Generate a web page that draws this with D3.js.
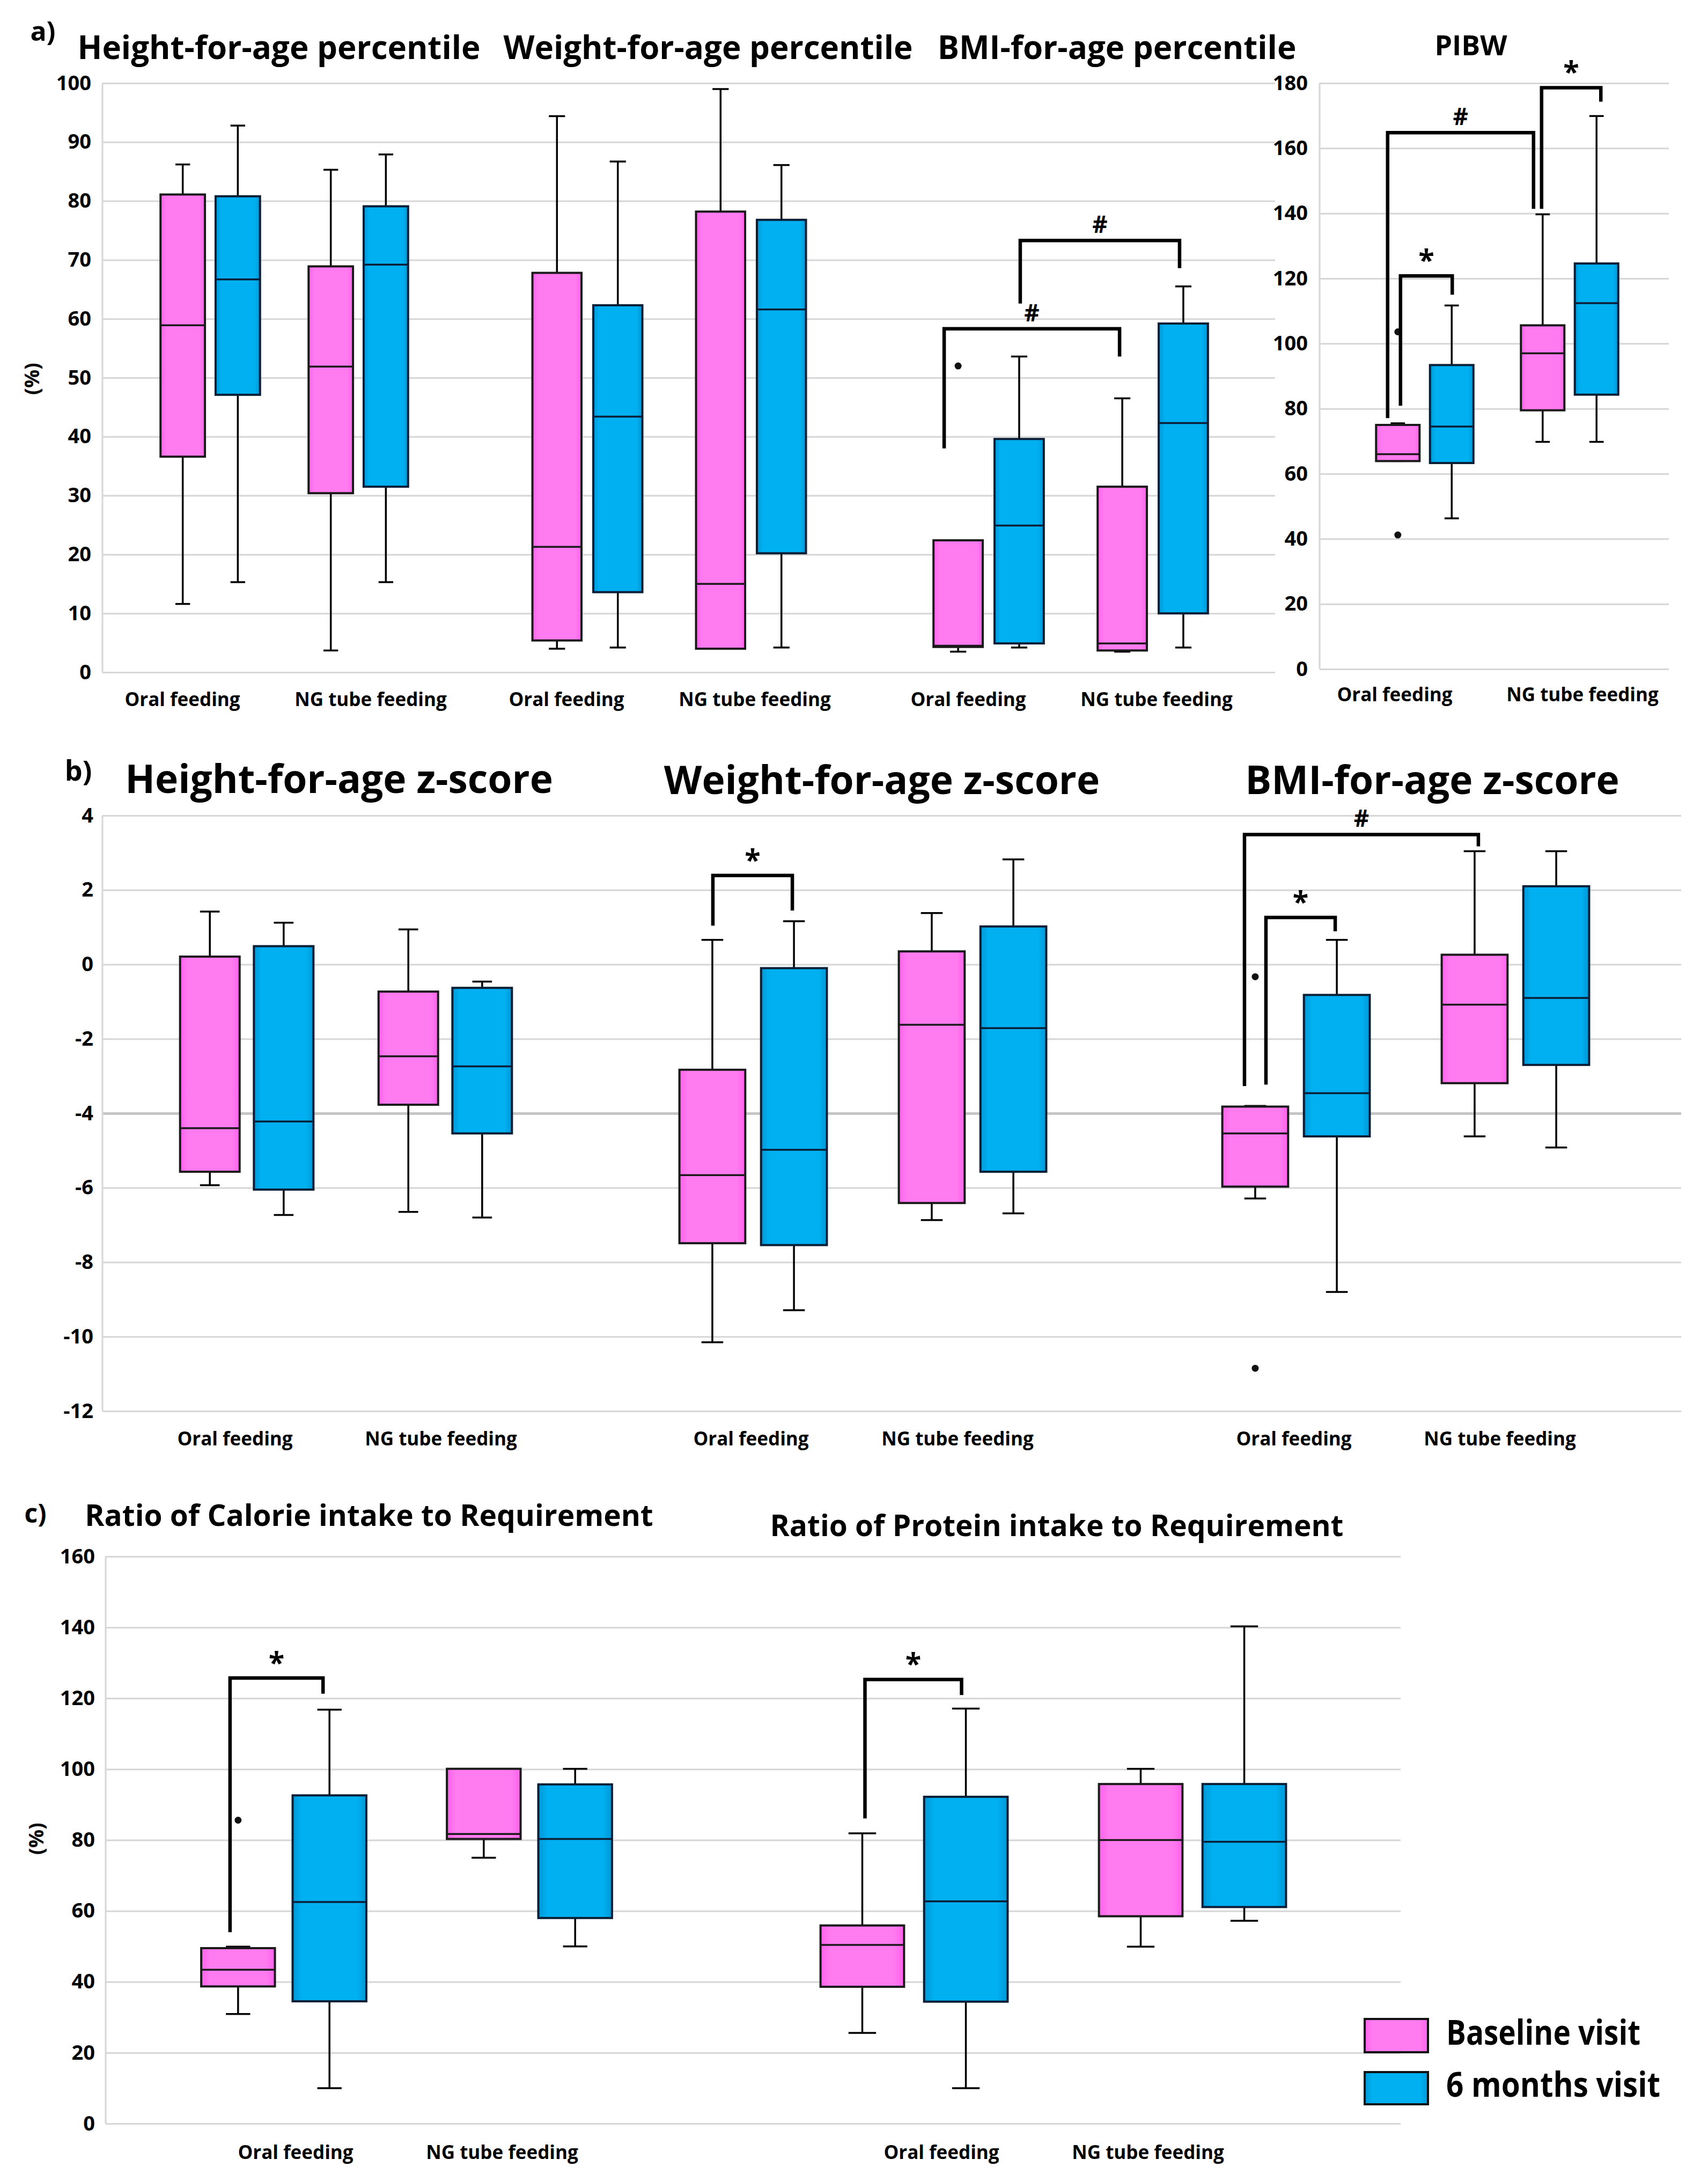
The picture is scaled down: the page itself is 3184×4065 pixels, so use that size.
<!DOCTYPE html>
<html><head><meta charset="utf-8">
<script src="https://cdn.jsdelivr.net/npm/d3@7"></script>
<style>
body{margin:0;background:#fff}
text{font-family:"Open Sans","Noto Sans",sans-serif}
</style>
</head><body><svg id="chart"></svg>
<script>
// ---------------- data ----------------
const seriesNames = ["Baseline visit", "6 months visit"];
const categories = ["Oral feeding", "NG tube feeding"];

const pctTicks = [0,10,20,30,40,50,60,70,80,90,100];
const pibwTicks = [0,20,40,60,80,100,120,140,160,180];
const zTicks = [-12,-10,-8,-6,-4,-2,0,2,4];
const ratioTicks = [0,20,40,60,80,100,120,140,160];

// five-number summaries [min, Q1, median, Q3, max] for [Oral feeding, NG tube feeding]
const hfaPctBaseline = [[11.6,36.6,58.9,81.1,86.2],[3.7,30.4,51.9,68.9,85.3]];
const hfaPct6m       = [[15.3,47.1,66.7,80.8,92.8],[15.3,31.5,69.2,79.1,87.9]];
const wfaPctBaseline = [[4.0,5.4,21.3,67.8,94.4],[4.0,4.0,15.0,78.2,99.0]];
const wfaPct6m       = [[4.2,13.6,43.4,62.3,86.7],[4.2,20.2,61.6,76.8,86.1]];
const bmiPctBaseline = [[3.5,4.3,4.5,22.4,22.4],[3.5,3.7,4.9,31.5,46.5]];
const bmiPct6m       = [[4.2,4.9,24.9,39.6,53.6],[4.2,10.0,42.3,59.2,65.5]];
const bmiPctOutliersBaseline = [[52.0],[]];

const pibwBaseline = [[63.9,63.9,66.0,75.0,75.5],[69.8,79.5,97.0,105.6,139.7]];
const pibw6m       = [[46.3,63.3,74.5,93.4,111.7],[69.8,84.3,112.4,124.6,169.9]];
const pibwOutliersBaseline = [[103.6,41.2],[]];

const hfaZBaseline = [[-5.93,-5.57,-4.40,0.21,1.42],[-6.65,-3.77,-2.47,-0.73,0.94]];
const hfaZ6m       = [[-6.73,-6.05,-4.22,0.49,1.12],[-6.80,-4.54,-2.74,-0.63,-0.46]];
const wfaZBaseline = [[-10.15,-7.49,-5.66,-2.83,0.66],[-6.87,-6.41,-1.62,0.35,1.38]];
const wfaZ6m       = [[-9.29,-7.54,-4.98,-0.10,1.16],[-6.69,-5.57,-1.71,1.02,2.82]];
const bmiZBaseline = [[-6.29,-5.97,-4.54,-3.82,-3.80],[-4.62,-3.19,-1.08,0.26,3.04]];
const bmiZ6m       = [[-8.80,-4.62,-3.46,-0.82,0.66],[-4.92,-2.70,-0.90,2.10,3.04]];
const bmiZOutliersBaseline = [[-0.33,-10.85],[]];

const calorieBaseline = [[30.9,38.7,43.4,49.5,49.9],[75.0,80.3,81.7,100.1,100.1]];
const calorie6m       = [[10.0,34.5,62.5,92.6,116.8],[50.0,58.0,80.3,95.7,100.1]];
const calorieOutliersBaseline = [[85.6],[]];
const proteinBaseline = [[25.6,38.6,50.4,55.9,81.9],[49.9,58.5,80.0,95.8,100.1]];
const protein6m       = [[10.0,34.4,62.7,92.2,117.1],[57.2,61.1,79.5,95.8,140.3]];

// significance brackets: from/to = [category index, series index], y = [left end, top, right end]
const bmiPctBrackets = [
  {from:[0,0], to:[1,0], y:[38,58.3,53.6], sym:"#", dx:[-26,-5]},
  {from:[0,1], to:[1,1], y:[62.6,73.3,68.6], sym:"#", dx:[2,-7]}
];
const pibwBrackets = [
  {from:[0,0], to:[1,0], y:[77.1,164.8,141.4], sym:"#", dx:[-19,-17]},
  {from:[0,0], to:[0,1], y:[80.9,120.8,115], sym:"*", dx:[5,1]},
  {from:[1,0], to:[1,1], y:[141.4,178.6,174.3], sym:"*", dx:[-2,8]}
];
const wfaZBrackets = [{from:[0,0], to:[0,1], y:[1.04,2.39,1.45], sym:"*", dx:[1,-3]}];
const bmiZBrackets = [
  {from:[0,0], to:[1,0], y:[-3.27,3.49,3.17], sym:"#", dx:[-20,7]},
  {from:[0,0], to:[0,1], y:[-3.23,1.26,0.89], sym:"*", dx:[20,-3]}
];
const calorieBrackets = [{from:[0,0], to:[0,1], y:[54,125.7,121.3], sym:"*", dx:[-15,-12]}];
const proteinBrackets = [{from:[0,0], to:[0,1], y:[86.1,125.3,120.9], sym:"*", dx:[5,-8]}];

// ---------------- layout ----------------
const W = 3184, H = 4065;
const panels = [
  {yDomain:[0,100], yRange:[1253,155], grid:[191,2377], ticks:pctTicks, tickRight:170, labelBase:1316,
   charts:[
     {range:[254,806], data:[hfaPctBaseline,hfaPct6m], labelDx:[-52,23]},
     {range:[942.5,1552.5], data:[wfaPctBaseline,wfaPct6m], labelDx:[-39,7]},
     {range:[1690,2302], data:[bmiPctBaseline,bmiPct6m], outliers:bmiPctOutliersBaseline, labelDx:[-38,7], brackets:bmiPctBrackets}
   ]},
  {yDomain:[0,180], yRange:[1247,155], grid:[2460,3111], ticks:pibwTicks, tickRight:2438, labelBase:1307,
   charts:[
     {range:[2521,3061], data:[pibwBaseline,pibw6m], outliers:pibwOutliersBaseline, labelDx:[-56,24], brackets:pibwBrackets}
   ]},
  {yDomain:[-12,4], yRange:[2630,1520], grid:[191,3134], ticks:zTicks, tickRight:174, labelBase:2694, highlight:-4,
   charts:[
     {range:[275,1015], data:[hfaZBaseline,hfaZ6m], labelDx:[-22,-8]},
     {range:[1199.5,2017.5], data:[wfaZBaseline,wfaZ6m], labelDx:[-4,-28], brackets:wfaZBrackets},
     {range:[2211.5,3029.5], data:[bmiZBaseline,bmiZ6m], outliers:bmiZOutliersBaseline, labelDx:[-4,-29], brackets:bmiZBrackets}
   ]},
  {yDomain:[0,160], yRange:[3958,2901], grid:[197,2611], ticks:ratioTicks, tickRight:177, labelBase:4024,
   charts:[
     {range:[300,1216], data:[calorieBaseline,calorie6m], outliers:calorieOutliersBaseline, labelDx:[22,-51], brackets:calorieBrackets},
     {range:[1444.5,2482.5], data:[proteinBaseline,protein6m], labelDx:[51,-83], brackets:proteinBrackets}
   ]}
];

const titles = [
  {text:"a)", x:80, y:76, size:50, weight:700},
  {text:"Height-for-age percentile", x:520, y:110, size:60, weight:700},
  {text:"Weight-for-age percentile", x:1320, y:110, size:60, weight:700},
  {text:"BMI-for-age percentile", x:2082, y:110, size:60, weight:700},
  {text:"PIBW", x:2742, y:103, size:52, weight:700},
  {text:"b)", x:146, y:1455, size:52, weight:700},
  {text:"Height-for-age z-score", x:632, y:1478, size:73, weight:700},
  {text:"Weight-for-age z-score", x:1644, y:1480, size:73, weight:700},
  {text:"BMI-for-age z-score", x:2670, y:1480, size:73, weight:700},
  {text:"c)", x:66, y:2838, size:48, weight:700},
  {text:"Ratio of Calorie intake to Requirement", x:688, y:2844, size:55, weight:700},
  {text:"Ratio of Protein intake to Requirement", x:1970, y:2863, size:55, weight:700}
];
const unitLabels = [{x:58, y:706}, {x:66, y:3427}];

// ---------------- drawing ----------------
const svg = d3.select("#chart").attr("width", W).attr("height", H).attr("viewBox", `0 0 ${W} ${H}`);
svg.append("rect").attr("width", W).attr("height", H).attr("fill", "#fff");
const defs = svg.append("defs");
function grad(id, edge, mid){
  const g = defs.append("linearGradient").attr("id", id).attr("x1","0%").attr("x2","100%").attr("y1","0%").attr("y2","0%");
  [[0,edge],[0.12,mid],[0.88,mid],[1,edge]].forEach(([o,c]) => g.append("stop").attr("offset", o).attr("stop-color", c));
}
grad("gPink", "#ff62ec", "#ff7bef");
grad("gBlue", "#0097d6", "#00b0f0");
const fills = ["url(#gPink)", "url(#gBlue)"];
const strokes = ["#1a1a1a", "#0b1e36"];
const gridColor = "#d6d6d6";

panels.forEach(p => {
  const g = svg.append("g");
  const y = d3.scaleLinear().domain(p.yDomain).range(p.yRange);
  // gridlines + tick labels via d3 axis
  const axis = d3.axisLeft(y).tickValues(p.ticks).tickFormat(d => String(d))
    .tickSize(-(p.grid[1]-p.grid[0])).tickPadding(p.grid[0]-p.tickRight);
  const ax = g.append("g").attr("transform", `translate(${p.grid[0]},0)`).call(axis);
  ax.select(".domain").remove();
  ax.selectAll(".tick line").attr("stroke", gridColor).attr("stroke-width", 3)
    .filter(d => d === p.highlight).attr("stroke", "#c6c6c6").attr("stroke-width", 5);
  ax.selectAll(".tick text").attr("fill", "#000").attr("font-size", 38).attr("font-weight", 700)
    .attr("font-family", "'Open Sans', sans-serif");
  // vertical axis line
  g.append("line").attr("x1", p.grid[0]).attr("x2", p.grid[0]).attr("y1", y(p.yDomain[0])).attr("y2", y(p.yDomain[1]))
    .attr("stroke", gridColor).attr("stroke-width", 3);

  p.charts.forEach(c => {
    const x = d3.scalePoint().domain(categories).range(c.range).padding(0.5);
    const step = x.step();
    const inner = d3.scaleBand().domain(seriesNames).range([-0.336*step, 0.336*step]).paddingInner(0.1935);
    const bw = inner.bandwidth();
    const capW = bw * 0.33;
    const cx = (ci, si) => x(categories[ci]) + inner(seriesNames[si]) + bw/2;
    const cg = g.append("g");

    // category labels
    categories.forEach((cat, ci) => {
      cg.append("text").attr("x", x(cat) + c.labelDx[ci]).attr("y", p.labelBase)
        .attr("text-anchor", "middle").attr("font-size", 35).attr("font-weight", 700).text(cat);
    });

    c.data.forEach((series, si) => {
      series.forEach((s, ci) => {
        const [mn, q1, md, q3, mx] = s;
        const xc = cx(ci, si);
        const bg = cg.append("g");
        // whiskers
        bg.append("line").attr("x1", xc).attr("x2", xc).attr("y1", y(mx)).attr("y2", y(q3)).attr("stroke", "#000").attr("stroke-width", 3.5);
        bg.append("line").attr("x1", xc).attr("x2", xc).attr("y1", y(q1)).attr("y2", y(mn)).attr("stroke", "#000").attr("stroke-width", 3.5);
        [mn, mx].forEach(v => bg.append("line").attr("x1", xc - capW/2).attr("x2", xc + capW/2)
          .attr("y1", y(v)).attr("y2", y(v)).attr("stroke", "#000").attr("stroke-width", 3.5));
        // box
        bg.append("rect").attr("x", xc - bw/2).attr("y", y(q3)).attr("width", bw).attr("height", Math.max(1, y(q1) - y(q3)))
          .attr("fill", fills[si]).attr("stroke", strokes[si]).attr("stroke-width", 4);
        // median
        bg.append("line").attr("x1", xc - bw/2).attr("x2", xc + bw/2).attr("y1", y(md)).attr("y2", y(md))
          .attr("stroke", strokes[si]).attr("stroke-width", 3.5);
      });
    });

    // outliers (baseline series)
    if (c.outliers) {
      c.outliers.forEach((vals, ci) => {
        vals.forEach(v => cg.append("circle").attr("cx", cx(ci, 0)).attr("cy", y(v)).attr("r", 6.5).attr("fill", "#111"));
      });
    }

    // significance brackets
    (c.brackets || []).forEach(b => {
      const xl = cx(b.from[0], b.from[1]) + b.dx[0];
      const xr = cx(b.to[0], b.to[1]) + b.dx[1];
      cg.append("path")
        .attr("d", `M${xl},${y(b.y[0])}V${y(b.y[1])}H${xr}V${y(b.y[2])}`)
        .attr("fill", "none").attr("stroke", "#000").attr("stroke-width", 6.5).attr("stroke-linejoin", "miter");
      cg.append("text").attr("x", (xl + xr)/2).attr("y", y(b.y[1]) - (b.sym === "#" ? 14 : 10))
        .attr("text-anchor", "middle").attr("font-size", b.sym === "#" ? 44 : 54).attr("font-weight", 700)
        .attr("font-family", "'DejaVu Sans', sans-serif").text(b.sym);
    });
  });
});

// titles
titles.forEach(t => {
  svg.append("text").attr("x", t.x).attr("y", t.y).attr("text-anchor", "middle")
    .attr("font-size", t.size).attr("font-weight", t.weight).attr("fill", "#000").text(t.text);
});
unitLabels.forEach(u => {
  svg.append("text").attr("transform", `translate(${u.x},${u.y}) rotate(-90)`).attr("text-anchor", "middle")
    .attr("dominant-baseline", "central").attr("font-size", 38).attr("font-weight", 700).text("(%)");
});

// legend
const legendItems = [
  {name: seriesNames[0], y:3763, h:62, len:362},
  {name: seriesNames[1], y:3862, h:60, len:399}
];
const lg = svg.append("g");
legendItems.forEach((it, i) => {
  lg.append("rect").attr("x", 2544).attr("y", it.y).attr("width", 118).attr("height", it.h)
    .attr("fill", fills[i]).attr("stroke", "#111").attr("stroke-width", 4);
  lg.append("text").attr("x", 2696).attr("y", it.y + it.h - 14)
    .attr("font-family", "'Liberation Sans Narrow','DejaVu Sans Condensed','Open Sans',sans-serif")
    .attr("font-size", 64).attr("font-weight", 700)
    .attr("textLength", it.len).attr("lengthAdjust", "spacingAndGlyphs").text(it.name);
});
</script>
</body></html>
